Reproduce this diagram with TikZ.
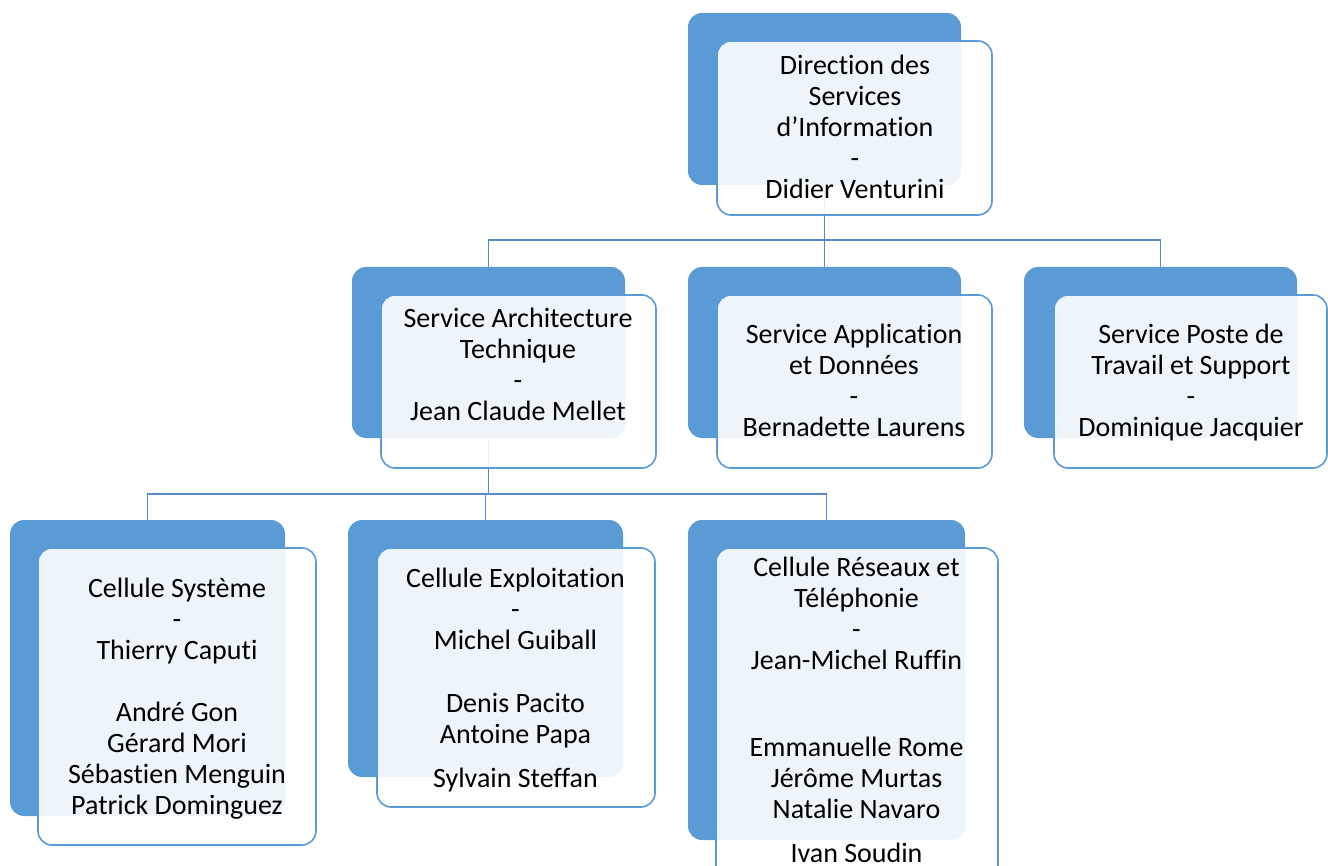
\documentclass[tikz,border=0pt]{standalone}
\usepackage{fontspec}
\setmainfont{Carlito}[Ligatures={NoCommon}]
\definecolor{boxblue}{HTML}{5B9BD5}
\definecolor{lineblue}{HTML}{5A8BC6}
\tikzset{
  backbox/.style={rectangle, rounded corners=14pt, fill=boxblue, draw=none, inner sep=0pt, outer sep=0pt},
  frontbox/.style={rectangle, rounded corners=14pt, fill=white, fill opacity=0.9, draw=boxblue, line width=1.6pt, inner sep=0pt, outer sep=0pt},
  conn/.style={draw=lineblue, line width=1.6pt},
  txt/.style={anchor=base, inner sep=0pt, font=\fontsize{28}{31}\selectfont, text=black}
}
\newcommand{\lines}[1]{\begin{tabular}[t]{@{}c@{}}#1\end{tabular}}
\begin{document}
\begin{tikzpicture}[x=1pt,y=-1pt]
\useasboundingbox (0,0) rectangle (1328,866);
\clip (0,0) rectangle (1328,866);
% back boxes
\node[backbox, minimum width=273pt, minimum height=172pt] (b0) at (824.5,99) {};
\node[backbox, minimum width=273pt, minimum height=171pt] (b1) at (488.5,352.5) {};
\node[backbox, minimum width=273pt, minimum height=171pt] (b2) at (824.5,352.5) {};
\node[backbox, minimum width=273pt, minimum height=171pt] (b3) at (1160.5,352.5) {};
\node[backbox, minimum width=275pt, minimum height=296pt] (b4) at (147.5,668) {};
\node[backbox, minimum width=275pt, minimum height=257pt] (b5) at (485.5,648.5) {};
\node[backbox, minimum width=277pt, minimum height=320pt] (b6) at (826.5,680) {};
% connectors
\coordinate (j0) at (824.5,240);
\coordinate (j1) at (488.5,494);
\draw[conn] (b0.south) -- (j0);
\draw[conn] (j0) -| (b1.north);
\draw[conn] (j0) -- (b2.north);
\draw[conn] (j0) -| (b3.north);
\draw[conn] (b1.south) -- (j1);
\draw[conn] (j1) -| (b4.north);
\draw[conn] (j1) -| (b5.north);
\draw[conn] (j1) -| (b6.north);
% front boxes
\node[frontbox, minimum width=275pt, minimum height=174pt] (f0) at (854.5,128) {};
\node[frontbox, minimum width=275pt, minimum height=173pt] (f1) at (518.5,381.5) {};
\node[frontbox, minimum width=275pt, minimum height=173pt] (f2) at (854.5,381.5) {};
\node[frontbox, minimum width=273pt, minimum height=173pt] (f3) at (1190.5,381.5) {};
\node[frontbox, minimum width=278pt, minimum height=297pt] (f4) at (177,696.5) {};
\node[frontbox, minimum width=278pt, minimum height=259pt] (f5) at (516,677.5) {};
\node[frontbox, minimum width=282pt, minimum height=332pt] (f6) at (857,714) {};
% texts
\node[txt] (t0) at (855,75) {\lines{Direction des\\Services\\d’Information\\-\\Didier Venturini}};
\node[txt] (t1) at (518,328) {\lines{Service Architecture\\Technique\\-\\Jean Claude Mellet}};
\node[txt] (t2) at (854,344) {\lines{Service Application\\et Données\\-\\Bernadette Laurens}};
\node[txt] (t3) at (1191,344) {\lines{Service Poste de\\Travail et Support\\-\\Dominique Jacquier}};
\node[txt] (t4) at (177,597) {\lines{Cellule Système\\-\\Thierry Caputi\\[31pt]André Gon\\Gérard Mori\\Sébastien Menguin\\Patrick Dominguez}};
\node[txt] (t5) at (515.5,587) {\lines{Cellule Exploitation\\-\\Michel Guiball\\[32pt]Denis Pacito\\Antoine Papa\\[13pt]Sylvain Steffan}};
\node[txt] (t6) at (856.5,576) {\lines{Cellule Réseaux et\\Téléphonie\\-\\Jean-Michel Ruffin\\[56pt]Emmanuelle Rome\\Jérôme Murtas\\Natalie Navaro\\[13pt]Ivan Soudin}};
\end{tikzpicture}
\end{document}
